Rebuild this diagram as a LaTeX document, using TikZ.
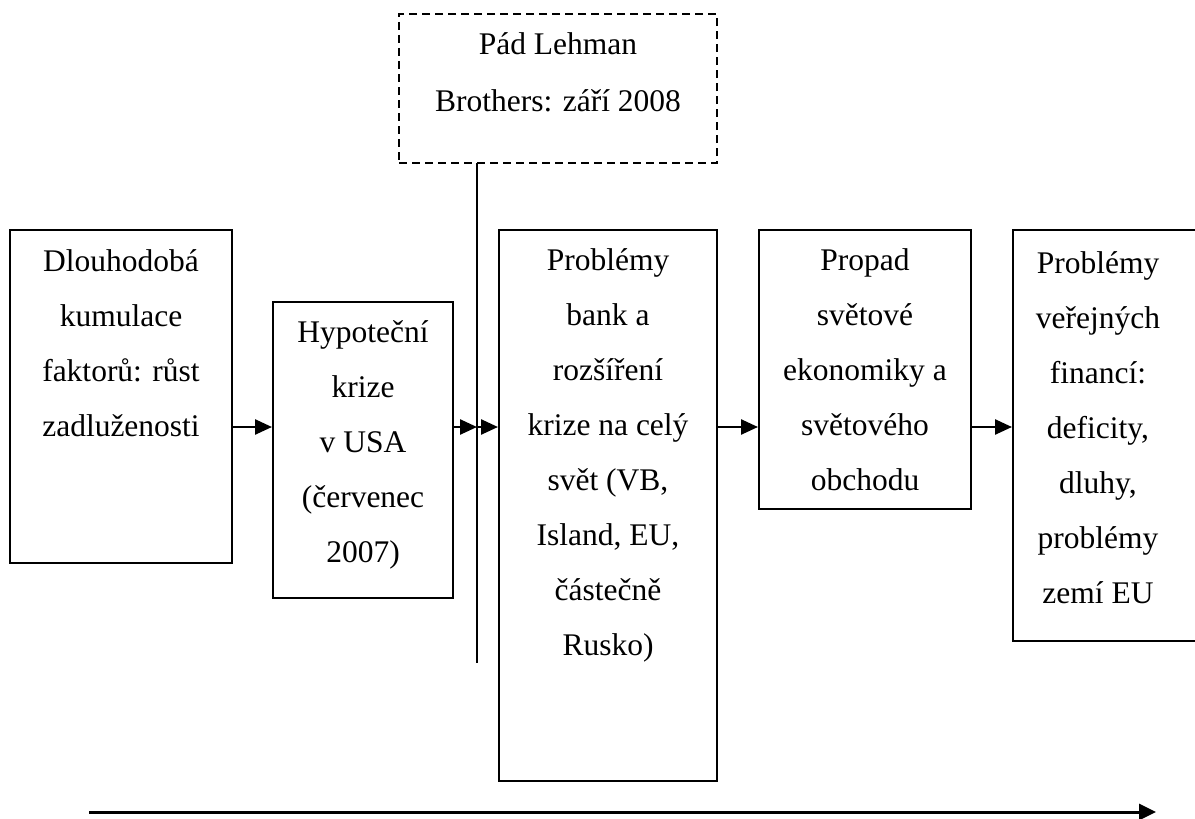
\documentclass[tikz,border=0pt]{standalone}
\usepackage{fontspec}
\setmainfont{Liberation Serif}
\usetikzlibrary{arrows.meta}
\begin{document}
\begin{tikzpicture}[x=1pt,y=-1pt,
  stage/.style={draw, line width=2pt, rectangle, inner sep=0pt},
  dashstage/.style={draw, line width=2pt, rectangle, inner sep=0pt, dash pattern=on 8pt off 5pt},
  boxtext/.style={anchor=north, inner sep=0pt, align=center, font=\fontsize{31.5pt}{55pt}\selectfont},
  conn/.style={line width=2.5pt, -{Triangle[length=17pt,width=15pt]}},
  timeline/.style={line width=3pt, -{Triangle[length=17pt,width=16pt]}}]
\clip (0,0) rectangle (1195,819);
\fill[white] (0,0) rectangle (1195,819);

% boxes
\node[stage, minimum width=222pt, minimum height=333pt] (b1) at (121,396.5) {};
\node[stage, minimum width=180pt, minimum height=296pt] (b2) at (363,450) {};
\node[dashstage, minimum width=318pt, minimum height=149pt] (d) at (558,88.5) {};
\node[stage, minimum width=218pt, minimum height=551pt] (b3) at (608,505.5) {};
\node[stage, minimum width=212pt, minimum height=279pt] (b4) at (865,369.5) {};
\node[stage, minimum width=202pt, minimum height=411pt] (b5) at (1114,435.5) {};

% texts
\node[boxtext] (t1) at (121,233) {\strut Dlouhodobá\\kumulace\\faktorů: růst\\zadluženosti};
\node[boxtext] (t2) at (363,304) {\strut Hypoteční\\krize\\v USA\\(červenec\\2007)};
\node[boxtext, font=\fontsize{31.5pt}{57pt}\selectfont] (td) at (558,14) {\strut Pád Lehman\\Brothers: září 2008};
\node[boxtext] (t3) at (608,232) {\strut Problémy\\bank a\\rozšíření\\krize na celý\\svět (VB,\\Island, EU,\\částečně\\Rusko)};
\node[boxtext] (t4) at (865,232) {\strut Propad\\světové\\ekonomiky a\\světového\\obchodu};
\node[boxtext] (t5) at (1098,235) {\strut Problémy\\veřejných\\financí:\\deficity,\\dluhy,\\problémy\\zemí EU};

% Lehman line
\coordinate (lt) at (477,163);
\coordinate (lb) at (477,663);
\coordinate (lm) at (477,427);
\draw[line width=2pt] (lt) -- (lb);

% connectors
\draw[conn] (b1.east |- lm) -- (b2.west |- lm);
\draw[conn] (b2.east |- lm) -- (lm);
\draw[conn] (lm) -- (b3.west |- lm);
\draw[conn] (b3.east |- lm) -- (b4.west |- lm);
\draw[conn] (b4.east |- lm) -- (b5.west |- lm);

% time axis
\coordinate (al) at (89,812);
\coordinate (ar) at (1156,812);
\draw[timeline] (al) -- (ar);
\end{tikzpicture}
\end{document}
